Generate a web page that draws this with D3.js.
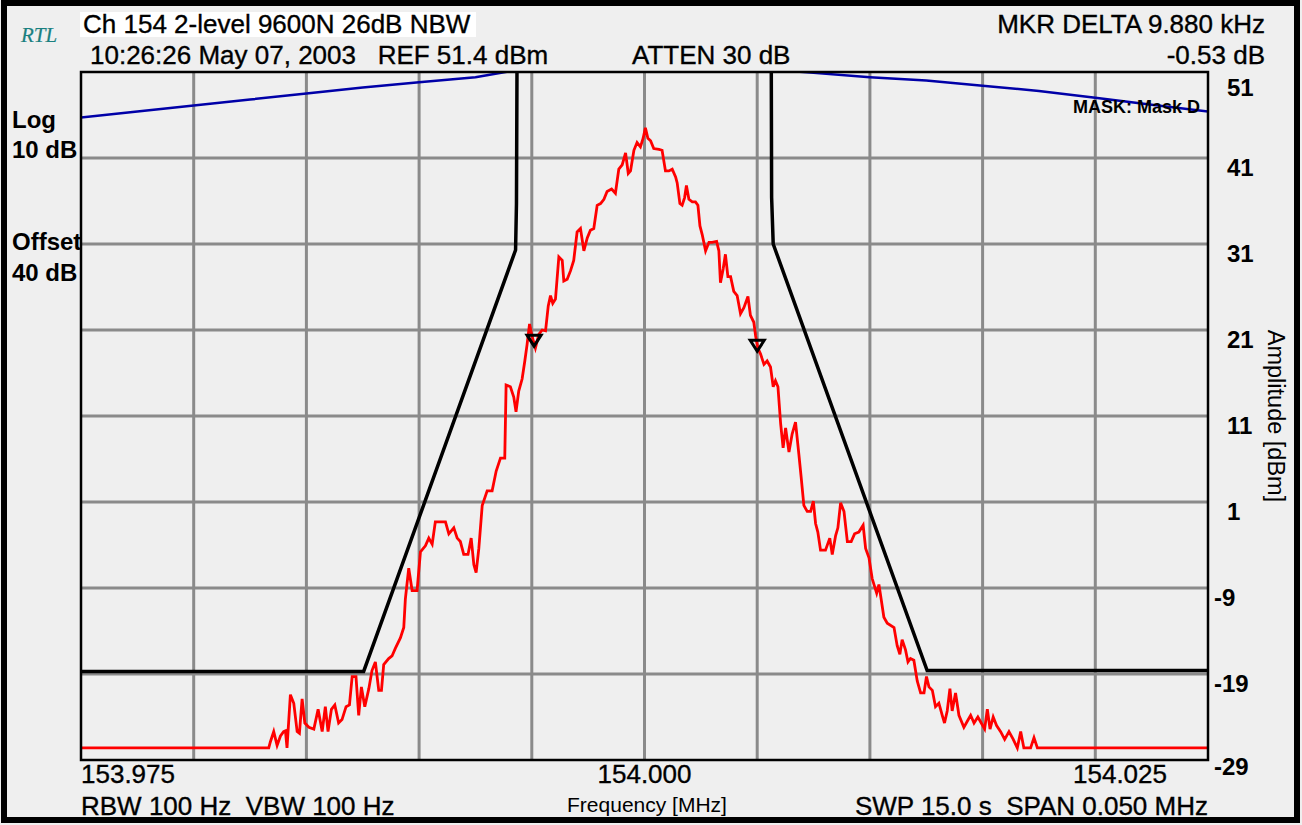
<!DOCTYPE html>
<html><head><meta charset="utf-8">
<script src="https://cdn.jsdelivr.net/npm/d3@7/dist/d3.min.js"></script>
<style>
html,body{margin:0;padding:0;background:#efefef;}
svg{display:block;}
</style></head>
<body>
<svg id="c" width="1302" height="825"></svg>
<script>
// ---------- data ----------
const centerMHz = 154.000;
const spanKHz = 50;
const xTickLabels = ["153.975", "154.000", "154.025"];
const yTickLabels = [51, 41, 31, 21, 11, 1, -9, -19, -29];

// spectrum trace: frequency offset (kHz) and amplitude (dBm)
const traceKHz = [-25,-16.67,-16.60,-16.45,-16.30,-16.15,-16.01,-15.93,-15.86,-15.71,-15.56,-15.41,-15.31,-15.19,-15.07,-14.89,-14.67,-14.48,-14.30,-14.16,-14.04,-13.89,-13.74,-13.57,-13.42,-13.24,-13.09,-12.97,-12.80,-12.68,-12.56,-12.41,-12.23,-12.09,-11.94,-11.79,-11.67,-11.57,-11.35,-11.20,-11.05,-10.83,-10.68,-10.61,-10.46,-10.31,-10.09,-9.94,-9.72,-9.57,-9.42,-9.28,-9.05,-8.83,-8.68,-8.46,-8.31,-8.17,-8.02,-7.83,-7.69,-7.57,-7.47,-7.35,-7.20,-6.98,-6.76,-6.58,-6.39,-6.20,-6.14,-5.95,-5.80,-5.70,-5.58,-5.43,-5.31,-5.21,-5.10,-4.99,-4.84,-4.69,-4.54,-4.39,-4.27,-4.17,-4.07,-3.95,-3.80,-3.65,-3.58,-3.43,-3.28,-3.14,-2.99,-2.84,-2.69,-2.54,-2.40,-2.25,-2.10,-1.95,-1.80,-1.66,-1.46,-1.29,-1.14,-0.99,-0.84,-0.72,-0.62,-0.47,-0.33,-0.18,-0.06,0.04,0.15,0.27,0.41,0.64,0.78,0.93,1.08,1.23,1.38,1.45,1.57,1.67,1.78,1.86,1.97,2.12,2.26,2.37,2.46,2.56,2.71,2.86,3.00,3.20,3.30,3.37,3.49,3.59,3.70,3.82,3.96,4.11,4.26,4.41,4.59,4.70,4.85,4.93,5.03,5.15,5.30,5.44,5.59,5.71,5.81,5.92,6.04,6.15,6.26,6.41,6.55,6.70,6.85,6.95,7.07,7.22,7.37,7.49,7.59,7.69,7.81,8.03,8.22,8.33,8.48,8.58,8.70,8.85,9.00,9.17,9.32,9.51,9.70,9.81,9.96,10.10,10.30,10.40,10.50,10.62,10.77,11.07,11.21,11.33,11.43,11.58,11.69,11.80,11.95,12.10,12.25,12.40,12.51,12.62,12.77,12.91,13.06,13.21,13.31,13.43,13.55,13.65,13.80,13.95,14.17,14.32,14.47,14.62,14.79,14.94,15.09,15.21,15.33,15.47,15.62,15.80,15.98,16.17,16.36,16.54,16.69,16.83,17.13,17.28,17.43,25];
const traceDBm = [-27.6,-27.6,-26.9,-25.7,-27.3,-26.2,-25.7,-25.6,-27.6,-21.4,-22.4,-25.7,-25.9,-21.9,-24.7,-25.2,-25.4,-23.1,-25.7,-22.8,-25.7,-23.1,-22.6,-24.7,-24.3,-22.8,-22.6,-19.3,-19.3,-23.8,-20.5,-22.8,-20.7,-18.6,-17.6,-20.9,-20.9,-17.9,-17.2,-16.9,-16.0,-14.8,-13.6,-10.3,-6.7,-9.3,-9.3,-4.8,-4.1,-3.2,-3.9,-1.3,-1.3,-1.3,-2.7,-2.0,-3.2,-3.6,-5.1,-5.1,-3.2,-6.3,-7.2,-4.4,0.6,2.3,2.3,4.6,6.1,6.1,14.6,14.4,13.2,11.5,13.9,15.3,17.4,19.3,21.7,20.3,18.9,20.5,21.0,20.9,23.8,25.0,24.1,24.6,29.5,29.1,26.7,26.9,27.9,29.1,32.4,32.8,30.2,31.7,32.6,32.8,35.5,35.7,36.2,37.1,37.4,36.9,39.7,40.2,41.6,39.2,39.5,41.9,42.8,42.3,43.3,44.5,43.3,43.0,42.1,42.0,41.9,39.5,39.5,39.7,38.8,38.1,35.7,35.5,36.4,37.8,36.2,35.9,35.9,35.5,33.1,32.1,30.2,31.2,31.2,31.3,30.2,26.5,28.1,29.8,27.2,27.2,25.5,25.0,22.9,23.6,24.9,22.7,21.9,20.3,18.9,18.2,17.0,17.4,16.7,14.4,15.1,14.4,10.1,7.3,9.6,6.8,8.9,10.3,6.5,3.9,0.6,-0.1,-0.1,1.1,-1.5,-2.5,-4.6,-4.6,-3.2,-5.1,-2.9,-2.0,0.9,-0.1,-3.6,-3.6,-2.7,-2.5,-1.7,-4.4,-5.5,-7.9,-9.6,-8.6,-10.3,-12.4,-13.1,-13.6,-15.7,-16.7,-15.0,-16.2,-17.6,-17.2,-17.4,-19.8,-21.2,-21.2,-19.3,-20.5,-20.9,-22.8,-22.4,-23.8,-24.7,-23.3,-20.7,-23.3,-21.2,-23.8,-25.2,-24.5,-23.8,-24.7,-24.0,-24.7,-25.4,-23.1,-25.4,-24.0,-25.0,-25.7,-26.6,-25.7,-26.6,-27.6,-25.7,-27.6,-27.6,-26.4,-27.6,-27.6];

// lower limit mask (black)
const maskKHz = [-25,-12.46,-5.72,-5.68,-5.65,5.62,5.64,5.71,12.54,25];
const maskDBm = [-18.7,-18.7,30.3,35.7,56,56,36.4,31.0,-18.6,-18.6];

// upper mask (blue)
const upperKHz = [-25,-22.5,-20,-17.5,-15,-12.5,-10,-7.5,-5.5,5.5,7.5,10,12.5,15,17.5,20,22.5,25];
const upperDBm = [45.7,46.4,47.1,47.8,48.5,49.2,49.8,50.4,51.3,51.3,50.9,50.4,50.0,49.4,48.8,48.0,47.2,46.4];

// markers
const markerKHz = [-4.9, 5.0];
const markerDBm = [20.4, 19.8];

// ---------- drawing ----------
const svg = d3.select("#c");
const L = 81, R = 1208, T = 72, B = 760;
const x = d3.scaleLinear().domain([-spanKHz/2, spanKHz/2]).range([L, R]);
const y = d3.scaleLinear().domain([-29, 51]).range([B, T]);
const SANS = "'Liberation Sans',Arial,sans-serif";

function txt(xx, yy, s, size, opts={}) {
  const t = svg.append("text").attr("x", xx).attr("y", yy)
    .style("font-family", opts.family || SANS).style("font-size", size + "px")
    .style("font-weight", opts.bold ? "bold" : "normal")
    .style("font-style", opts.italic ? "italic" : "normal")
    .style("fill", opts.fill || "#000")
    .style("stroke", opts.fill || "#000").style("stroke-width", opts.sw === undefined ? 0.35 : opts.sw)
    .attr("text-anchor", opts.anchor || "start")
    .attr("xml:space", "preserve").text(s);
  return t;
}

// outer frame
svg.append("rect").attr("x",4).attr("y",3).attr("width",1293).attr("height",817)
  .attr("fill","none").attr("stroke","#000").attr("stroke-width",6);

// grid
const g = svg.append("g");
g.selectAll(".vg").data(d3.range(-20, 25, 5)).join("line")
  .attr("x1", d=>x(d)).attr("x2", d=>x(d)).attr("y1", T).attr("y2", B)
  .attr("stroke","#8a8a8a").attr("stroke-width",3);
g.selectAll(".hg").data(yTickLabels.slice(1,-1)).join("line")
  .attr("y1", d=>y(d)).attr("y2", d=>y(d)).attr("x1", L).attr("x2", R)
  .attr("stroke","#8a8a8a").attr("stroke-width",3);

svg.append("clipPath").attr("id","clip").append("rect")
  .attr("x",L).attr("y",T).attr("width",R-L).attr("height",B-T);

const line = d3.line().x(d=>x(d[0])).y(d=>y(d[1]));
const plot = svg.append("g").attr("clip-path","url(#clip)");

plot.append("path").datum(upperKHz.map((k,i)=>[k,upperDBm[i]]))
  .attr("d", line).attr("fill","none").attr("stroke","#0000a8").attr("stroke-width",2.5);
plot.append("path").datum(maskKHz.map((k,i)=>[k,maskDBm[i]]))
  .attr("d", line).attr("fill","none").attr("stroke","#000").attr("stroke-width",3.5);
plot.append("path").datum(traceKHz.map((k,i)=>[k,traceDBm[i]]))
  .attr("d", line).attr("fill","none").attr("stroke","#ff0000").attr("stroke-width",2.8)
  .attr("stroke-linejoin","miter");

// markers
markerKHz.forEach((k,i)=>{
  const cx = x(k), cy = y(markerDBm[i]);
  plot.append("path").attr("d",`M${cx-7},${cy} L${cx+7},${cy} L${cx},${cy+11} Z`)
    .attr("fill","none").attr("stroke","#000").attr("stroke-width",3);
});

// plot border
svg.append("rect").attr("x",L).attr("y",T).attr("width",R-L).attr("height",B-T)
  .attr("fill","none").attr("stroke","#000").attr("stroke-width",2.5);

// mask label
txt(1073, 113, "MASK: Mask D", 18, {bold:true, sw:0});

// header
svg.append("rect").attr("x",80).attr("y",12).attr("width",396).attr("height",25).attr("fill","#fff");
txt(21, 42, "RTL", 21, {family:"'Liberation Serif','DejaVu Serif',serif", italic:true, fill:"#1a8080", sw:0.2});
txt(83, 33, "Ch 154 2-level 9600N 26dB NBW", 26);
txt(90, 64, "10:26:26 May 07, 2003   REF 51.4 dBm", 26);
txt(632, 64, "ATTEN 30 dB", 26);
txt(1265, 33, "MKR DELTA 9.880 kHz", 26, {anchor:"end"});
txt(1265, 64, "-0.53 dB", 26, {anchor:"end"});

// left labels
[["Log",128],["10 dB",158],["Offset",250],["40 dB",281]].forEach(([t,yy])=>{
  txt(12, yy, t, 24, {bold:true, sw:0});
});

// right tick labels
yTickLabels.forEach((v,i)=>{
  let off = 18; if (i===0) off = 24; if (i===yTickLabels.length-1) off = 15;
  txt(v<0 ? 1214 : 1227, y(v)+off, String(v), 24, {bold:true, sw:0});
});
svg.append("text").attr("transform","translate(1268,416) rotate(90)").attr("text-anchor","middle")
  .style("font-family", SANS).style("font-size","23.5px").text("Amplitude [dBm]");

// x labels
txt(81, 783, xTickLabels[0], 26);
txt(x(0), 783, xTickLabels[1], 26, {anchor:"middle"});
txt(1073, 783, xTickLabels[2], 26);
txt(647, 812, "Frequency [MHz]", 21, {anchor:"middle", sw:0});
txt(81, 815, "RBW 100 Hz  VBW 100 Hz", 26);
txt(1208, 815, "SWP 15.0 s  SPAN 0.050 MHz", 26, {anchor:"end"});
</script>
</body></html>
